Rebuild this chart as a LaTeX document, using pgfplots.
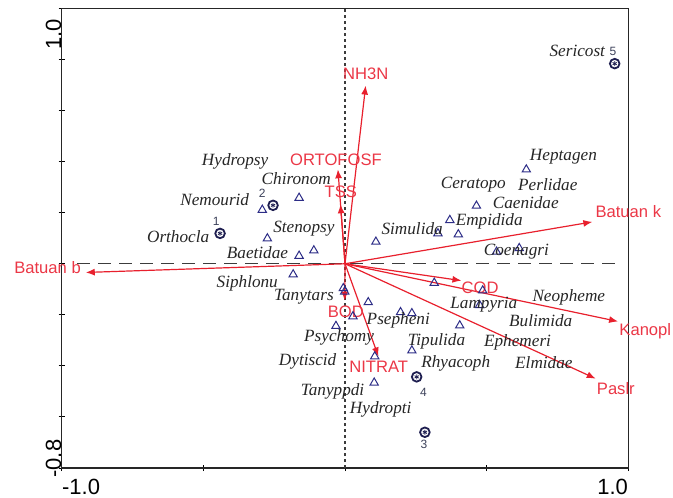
\documentclass[border=0pt]{standalone}
\usepackage{pgfplots}
\pgfplotsset{compat=1.18}
\usepackage{pgfplotstable}
\usepackage{fontspec}
\setmainfont{Liberation Serif}
\setsansfont{Liberation Sans}
\usetikzlibrary{arrows.meta}

\definecolor{triblue}{RGB}{45,45,135}
\definecolor{siteblue}{RGB}{30,30,80}
\definecolor{envred}{RGB}{232,32,45}
\definecolor{envtext}{RGB}{235,55,70}
\definecolor{dashgray}{RGB}{60,60,60}
\definecolor{numgray}{RGB}{60,65,90}

\newcommand{\spfont}{\fontsize{8.6}{10}\selectfont\itshape}
\newcommand{\envfont}{\fontsize{8.3}{10}\selectfont\sffamily}
\newcommand{\numfont}{\fontsize{6}{7}\selectfont\sffamily}
\newcommand{\tickfont}{\fontsize{11}{13}\selectfont\sffamily}

% species scores (triangles)
\pgfplotstableread{
x y
0.640 0.369
0.464 0.227
0.370 0.171
0.400 0.115
0.328 0.119
0.109 0.086
0.615 0.061
0.535 0.047
0.315 -0.075
0.486 -0.105
0.475 -0.162
0.405 -0.242
0.236 -0.340
0.196 -0.190
0.236 -0.194
0.082 -0.151
0.028 -0.206
-0.032 -0.244
0.105 -0.363
0.103 -0.466
-0.006 -0.096
-0.001 -0.109
-0.183 -0.042
-0.162 0.031
-0.110 0.052
-0.274 0.099
-0.292 0.211
-0.162 0.258
}\triangles

% site scores (circles)
\pgfplotstableread{
x y name
-0.441 0.119 1
-0.254 0.229 2
0.282 -0.660 3
0.253 -0.443 4
0.952 0.784 5
}\sites

% site number labels
\pgfplotstableread{
x y name
-0.455 0.165 1
-0.292 0.277 2
0.279 -0.707 3
0.277 -0.504 4
0.946 0.830 5
}\sitelabels

% species labels
\pgfplotstableread{
x y name
0.820 0.832 Sericost
-0.388 0.403 Hydropsy
-0.172 0.335 Chironom
-0.460 0.250 Nemourid
-0.589 0.106 Orthocla
-0.145 0.136 Stenopsy
-0.309 0.045 Baetidae
-0.345 -0.075 Siphlonu
-0.145 -0.131 Tanytars
-0.021 -0.287 Psychomy
-0.132 -0.381 Dytiscid
-0.044 -0.501 Tanyppdi
0.126 -0.570 Hydropti
0.188 -0.223 Psepheni
0.323 -0.302 Tipulida
0.391 -0.391 Rhyacoph
0.609 -0.309 Ephemeri
0.702 -0.387 Elmidae
0.691 -0.224 Bulimida
0.790 -0.131 Neopheme
0.490 -0.162 Lampyria
0.237 0.136 Simulida
0.509 0.166 Empidida
0.638 0.239 Caenidae
0.716 0.310 Perlidae
0.453 0.310 Ceratopo
0.771 0.418 Heptagen
0.605 0.048 Coenagri
}\splabels

\begin{document}
\begin{tikzpicture}
\begin{axis}[
  scale only axis,
  width=283.3pt, height=229.75pt,
  xmin=-1, xmax=1, ymin=-0.8, ymax=1,
  xtick={-1,-0.5,0,0.5,1},
  ytick={-0.8,-0.6,-0.4,-0.2,0,0.2,0.4,0.6,0.8,1.0},
  xticklabels={}, yticklabels={},
  tick pos=left,
  tick align=center,
  major tick length=3pt,
  tick style={color=black, line width=0.5pt},
  axis line style={line width=0.6pt, color=black!85},
  clip=false,
]
% reference lines
\addplot[dashgray, line width=0.5pt, dash pattern=on 6.5pt off 4pt] coordinates {(-0.946,0) (0.955,0)};
\addplot[dashgray, line width=0.6pt, dash pattern=on 1.5pt off 1.5pt] coordinates {(0,-0.8) (0,1)};

% species
\addplot[only marks, mark=triangle, mark size=2.4pt, color=triblue, mark options={line width=0.5pt}] table[x=x,y=y] {\triangles};

% sites
\addplot[only marks, mark=o, mark size=2.4pt, color=siteblue, mark options={line width=0.9pt}] table[x=x,y=y] {\sites};
\addplot[only marks, mark=asterisk, mark size=1.2pt, color=siteblue, mark options={line width=0.4pt}] table[x=x,y=y] {\sites};

% environmental arrows
\pgfplotsset{envarrow/.style={envred, line width=0.6pt, -{Latex[length=4.5pt,width=3.5pt]}}}
\addplot[envarrow] coordinates {(0,0) (0.073,0.698)};
\addplot[envarrow] coordinates {(0,0) (-0.025,0.370)};
\addplot[envarrow] coordinates {(0,0) (-0.016,0.233)};
\addplot[envarrow] coordinates {(0,0) (0.873,0.164)};
\addplot[envarrow] coordinates {(0,0) (-0.915,-0.034)};
\addplot[envarrow] coordinates {(0,0) (0.411,-0.066)};
\addplot[envarrow] coordinates {(0,0) (0.964,-0.226)};
\addplot[envarrow] coordinates {(0,0) (0.885,-0.450)};
\addplot[envarrow] coordinates {(0,0) (0.118,-0.363)};
\addplot[envarrow] coordinates {(0,0) (-0.001,-0.144)};

% species labels
\addplot[draw=none, mark=none, nodes near coords, point meta=explicit symbolic,
  nodes near coords style={anchor=center, font=\spfont, text=black!85, inner sep=0pt}]
  table[x=x,y=y,meta=name] {\splabels};

% site numbers
\addplot[draw=none, mark=none, nodes near coords, point meta=explicit symbolic,
  nodes near coords style={anchor=center, font=\numfont, text=numgray, inner sep=0pt}]
  table[x=x,y=y,meta=name] {\sitelabels};

% environmental labels
\begin{scope}[every node/.style={font=\envfont, text=envtext, inner sep=0pt}]
\node at (axis cs:0.073,0.743) {NH3N};
\node at (axis cs:-0.032,0.407) {ORTOFOSF};
\node at (axis cs:-0.015,0.282) {TSS};
\node at (axis cs:1.000,0.204) {Batuan k};
\node at (axis cs:-1.050,-0.016) {Batuan b};
\node at (axis cs:0.477,-0.095) {COD};
\node at (axis cs:1.060,-0.266) {Kanopl};
\node at (axis cs:0.956,-0.488) {Paslr};
\node at (axis cs:0.119,-0.405) {NITRAT};
\node at (axis cs:0.003,-0.188) {BOD};
\end{scope}

% tick labels at the ends
\node[font=\tickfont, anchor=north west, inner sep=0pt, yshift=-5.5pt] at (rel axis cs:0,0) {-1.0};
\node[font=\tickfont, anchor=north east, inner sep=0pt, yshift=-5.5pt] at (rel axis cs:1,0) {1.0};
\node[font=\tickfont, rotate=90, anchor=south east, inner sep=0pt, xshift=-5pt] at (rel axis cs:0,1) {1.0};
\node[font=\tickfont, rotate=90, anchor=south west, inner sep=0pt, xshift=-5pt] at (rel axis cs:0,0) {-0.8};

\coordinate (BL) at (rel axis cs:0,0);
\coordinate (TR) at (rel axis cs:1,1);
\end{axis}
\pgfresetboundingbox
\path ([xshift=-30.85pt,yshift=-14.5pt]BL) rectangle ([xshift=22.35pt,yshift=4.25pt]TR);
\end{tikzpicture}
\end{document}
